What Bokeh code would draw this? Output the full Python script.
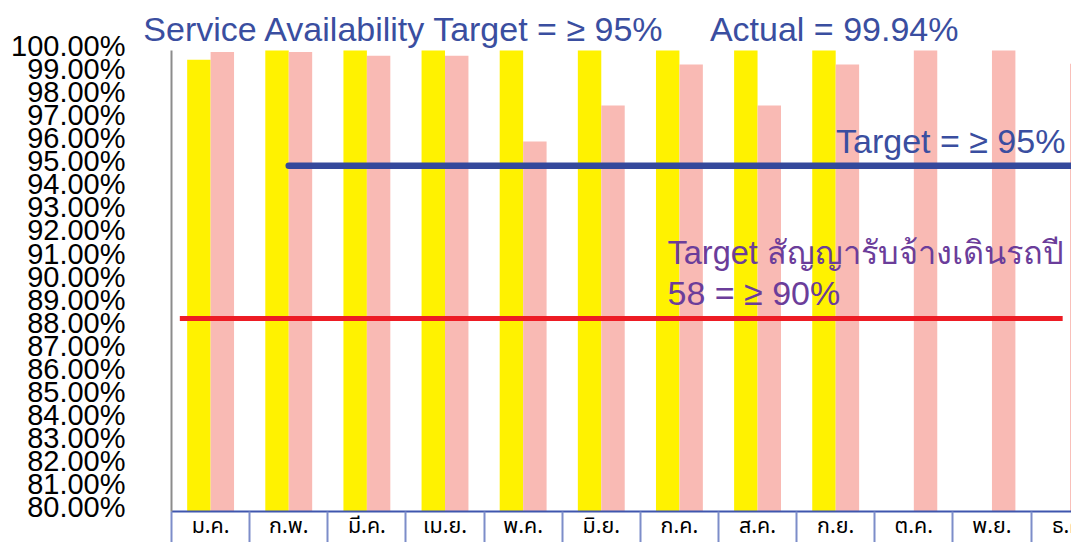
from bokeh.plotting import figure
from bokeh.models import Range1d, LinearAxis, FixedTicker, Label, ColumnDataSource
from bokeh.core.properties import value
from bokeh.embed import file_html
from bokeh.resources import INLINE

# ---------------- data ----------------
months = ["ม.ค.", "ก.พ.", "มี.ค.", "เม.ย.", "พ.ค.", "มิ.ย.",
          "ก.ค.", "ส.ค.", "ก.ย.", "ต.ค.", "พ.ย.", "ธ.ค."]
nan = float("nan")
series_yellow = [99.60, 100.0, 100.0, 100.0, 100.0, 100.0,
                 100.0, 100.0, 100.0, nan, nan, nan]
series_pink = [99.94, 99.94, 99.77, 99.77, 96.06, 97.62,
               99.39, 97.62, 99.39, 100.0, 100.0, 99.43]
y_ticks = list(range(80, 101))
y_tick_labels = [f"{v}.00%" for v in y_ticks]
target_service = 95.0      # blue line
target_contract = 88.38    # red line (as drawn)

title_left = "Service Availability Target = ≥ 95%"
title_right = "Actual = 99.94%"
target_service_text = "Target = ≥ 95%"
target_contract_text1 = "Target สัญญารับจ้างเดินรถปี"
target_contract_text2 = "58 = ≥ 90%"

# ---------------- styling / layout ----------------
W, H = 1071, 542
Y0 = 80
x_start, x_end = -2.189, 11.518
y_start, y_end = 78.674, 102.168
label_shift = 0.2
bar_w = 0.3
text_dy = 0.48

YELLOW = "#FFF200"
PINK = "#F9BAB4"
BLUE = "#3A4EA0"
LINE_BLUE = "#34499C"
RED = "#ED1C24"
PURPLE = "#6B3D9A"
FONT = "Liberation Sans"

p = figure(width=W, height=H, output_backend="svg", toolbar_location=None,
           title=None, x_axis_type=None, y_axis_type=None,
           x_range=Range1d(x_start, x_end), y_range=Range1d(y_start, y_end),
           min_border_left=0, min_border_right=0, min_border_top=0,
           min_border_bottom=0, outline_line_color=None,
           background_fill_color="white", border_fill_color="white")

n = len(months)
idx = list(range(n))
src = ColumnDataSource(dict(
    xy=[i + 0.5 - bar_w / 2 for i in idx],
    xp=[i + 0.5 + bar_w / 2 for i in idx],
    yel=series_yellow, pink=series_pink,
    xc=[i + 0.5 for i in idx], month=months,
))

p.vbar(x="xy", top="yel", bottom=Y0, width=bar_w, source=src,
       fill_color=YELLOW, line_color=None)
p.vbar(x="xp", top="pink", bottom=Y0, width=bar_w, source=src,
       fill_color=PINK, line_color=None)

# target lines
p.line(x=[1.5, x_end + 0.3], y=[target_service] * 2, line_color=LINE_BLUE,
       line_width=6.5, line_cap="round")
p.line(x=[0.106, 11.405], y=[target_contract] * 2, line_color=RED,
       line_width=5)

# y axis: line only
yline = LinearAxis(fixed_location=0, ticker=FixedTicker(ticks=[]), bounds=(Y0, 100),
                   axis_line_color="#8C8C8C", axis_line_width=2,
                   major_tick_out=0, major_tick_in=0, minor_tick_out=0,
                   minor_tick_in=0, major_tick_line_color=None,
                   minor_tick_line_color=None)
p.add_layout(yline, "left")

# y axis: labels
tick_pos = [round(v + label_shift, 3) for v in y_ticks]
ylab = LinearAxis(fixed_location=0, ticker=FixedTicker(ticks=tick_pos),
                  major_label_overrides={t: s for t, s in zip(tick_pos, y_tick_labels)},
                  axis_line_color=None, major_tick_line_color=None,
                  minor_tick_line_color=None, major_tick_out=0, major_tick_in=0,
                  minor_tick_out=0, minor_tick_in=0,
                  major_label_standoff=46,
                  major_label_text_font=FONT,
                  major_label_text_font_size="29px",
                  major_label_text_color="black")
p.add_layout(ylab, "left")

# x axis with category separators (minor ticks at category boundaries)
xax = LinearAxis(fixed_location=Y0,
                 ticker=FixedTicker(ticks=[], minor_ticks=list(range(n + 1))),
                 bounds=(0, n), axis_line_color="#3F56AE", axis_line_width=2,
                 major_tick_line_color=None, major_tick_out=0, major_tick_in=0,
                 minor_tick_line_color="#7D8DC9", minor_tick_line_width=2,
                 minor_tick_out=32, minor_tick_in=0)
p.add_layout(xax, "below")

p.text(x="xc", y=80.078, text="month", source=src, text_align="center",
       text_baseline="top", text_font=value("Noto Sans Thai"),
       text_font_size="21.5px", text_color="black")

# annotations
def lab(x, y, text, color, size):
    p.add_layout(Label(x=x, y=y + text_dy, text=text, text_color=color,
                       text_font=FONT, text_font_size=size,
                       text_baseline="alphabetic", text_align="left"))

lab(-0.3607, 100.442, title_left, BLUE, "34px")
lab(6.89, 100.442, title_right, BLUE, "34px")
lab(8.504, 95.6, target_service_text, BLUE, "34px")
lab(6.348, 90.758, target_contract_text1, PURPLE, "32.5px")
lab(6.348, 88.99, target_contract_text2, PURPLE, "34px")

open("out.html", "w").write(file_html(p, INLINE))
